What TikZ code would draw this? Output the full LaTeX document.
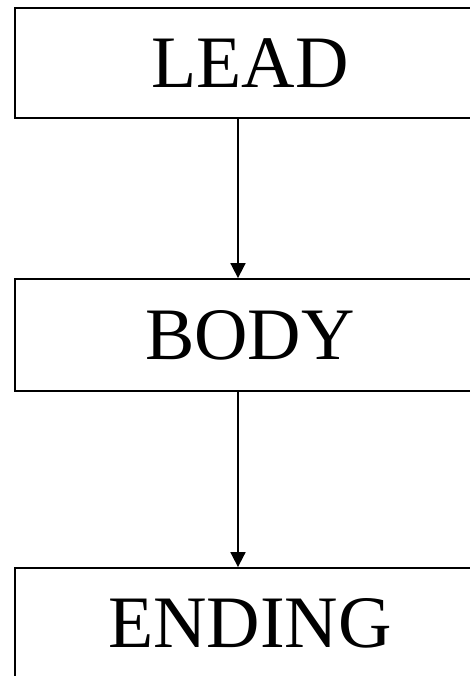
\documentclass[tikz,border=0pt]{standalone}
\usepackage{fontspec}
\setmainfont{Liberation Serif}
\usetikzlibrary{arrows.meta}

\begin{document}
\begin{tikzpicture}[x=1pt,y=1pt,line width=1.8pt,
    partbox/.style={draw,rectangle,minimum width=470pt,inner sep=0pt,
      text height=49pt,text depth=0pt,
      font=\fontsize{74}{80}\selectfont},
    >={Triangle[width=15pt,length=15pt]}]
  \useasboundingbox (0,0) rectangle (470,676);
  \clip (0,0) rectangle (470,676);

  \node[partbox,minimum height=110pt] (lead) at (250,613) {LEAD};
  \node[partbox,minimum height=112pt] (body) at (250,341) {BODY};
  \node[partbox,minimum height=110pt] (ending) at (250,53) {ENDING};

  \draw[->] ([xshift=-12pt]lead.south) -- ([xshift=-12pt]body.north);
  \draw[->] ([xshift=-12pt]body.south) -- ([xshift=-12pt]ending.north);
\end{tikzpicture}
\end{document}
